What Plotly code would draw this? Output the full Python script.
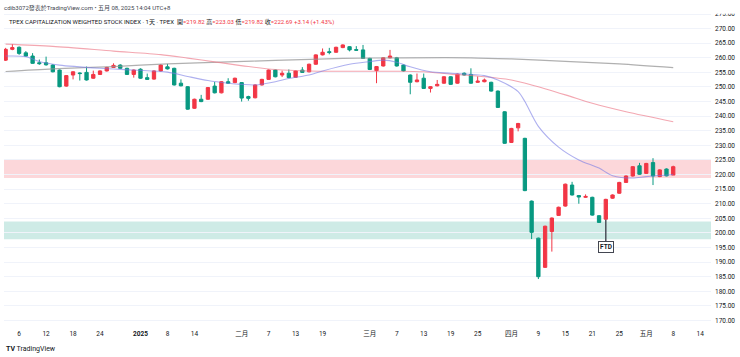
import plotly.graph_objects as go

# ---------------- data ----------------
dates = [
    "2024-12-04", "2024-12-05", "2024-12-06", "2024-12-09", "2024-12-10", "2024-12-11", "2024-12-12",
    "2024-12-13", "2024-12-16", "2024-12-17", "2024-12-18", "2024-12-19", "2024-12-20", "2024-12-23",
    "2024-12-24", "2024-12-25", "2024-12-26", "2024-12-27", "2024-12-30", "2024-12-31",
    "2025-01-02", "2025-01-03", "2025-01-06", "2025-01-07", "2025-01-08", "2025-01-09", "2025-01-10",
    "2025-01-13", "2025-01-14", "2025-01-15", "2025-01-16", "2025-01-17", "2025-01-20", "2025-01-21",
    "2025-01-22",
    "2025-02-03", "2025-02-04", "2025-02-05", "2025-02-06", "2025-02-07", "2025-02-10", "2025-02-11",
    "2025-02-12", "2025-02-13", "2025-02-14", "2025-02-17", "2025-02-18", "2025-02-19", "2025-02-20",
    "2025-02-21", "2025-02-24", "2025-02-25", "2025-02-26", "2025-02-27",
    "2025-03-03", "2025-03-04", "2025-03-05", "2025-03-06", "2025-03-07", "2025-03-10", "2025-03-11",
    "2025-03-12", "2025-03-13", "2025-03-14", "2025-03-17", "2025-03-18", "2025-03-19", "2025-03-20",
    "2025-03-21", "2025-03-24", "2025-03-25", "2025-03-26", "2025-03-27", "2025-03-28", "2025-03-31",
    "2025-04-01", "2025-04-02", "2025-04-07", "2025-04-08", "2025-04-09", "2025-04-10", "2025-04-11",
    "2025-04-14", "2025-04-15", "2025-04-16", "2025-04-17", "2025-04-18", "2025-04-21", "2025-04-22",
    "2025-04-23", "2025-04-24", "2025-04-25", "2025-04-28", "2025-04-29", "2025-04-30",
    "2025-05-02", "2025-05-05", "2025-05-06", "2025-05-07", "2025-05-08",
]
future_dates = ["2025-05-09", "2025-05-12", "2025-05-13", "2025-05-14", "2025-05-15", "2025-05-16"]

opens = [
    259.2, 262.9, 263.6, 261.7, 260.6, 258.3, 258.3, 257.5, 255.8, 250.3,
    254.1, 254.8, 255.0, 253.0, 254.3, 255.5, 256.7, 257.5, 256.4, 254.3,
    256.1, 253.2, 252.7, 255.5, 256.9, 256.4, 251.3, 250.1, 242.7, 245.8,
    245.8, 250.3, 248.0, 251.8, 251.5,
    251.5, 246.7, 246.3, 250.7, 252.6, 255.8, 254.1, 254.7, 253.3, 255.8,
    255.2, 257.8, 261.0, 262.1, 261.9, 263.5, 263.8, 262.8, 262.7,
    259.8, 255.6, 257.2, 260.0, 260.0, 257.5, 254.1, 251.8, 253.0, 249.5,
    250.4, 251.3, 253.5, 251.3, 254.7, 254.3, 251.6, 251.8, 251.6, 248.6, 241.5,
    231.0, 236.0, 232.4, 210.9, 198.2, 188.2, 200.5, 206.0, 209.2, 216.4,
    212.8, 212.2, 212.2, 205.9, 204.7, 211.9, 213.6, 217.3, 219.5, 223.0,
    220.4, 224.1, 219.3, 221.9, 219.82,
]
highs = [
    263.4, 264.7, 263.9, 262.3, 261.6, 259.4, 260.4, 257.8, 256.0, 254.1,
    255.4, 255.0, 257.0, 255.6, 255.7, 256.9, 258.1, 257.8, 256.6, 256.0,
    256.4, 254.6, 255.7, 257.8, 257.9, 256.6, 252.6, 250.3, 246.0, 247.3,
    250.0, 251.7, 252.0, 253.0, 253.2,
    251.7, 247.0, 250.9, 252.8, 256.0, 256.0, 255.6, 256.0, 255.7, 256.8,
    258.0, 261.2, 263.2, 263.4, 263.8, 264.6, 264.0, 264.0, 264.4,
    260.0, 257.2, 260.2, 262.7, 260.3, 257.7, 254.3, 254.6, 254.6, 250.3,
    252.4, 253.7, 253.7, 254.6, 255.0, 256.4, 253.6, 252.9, 251.8, 248.8, 241.7,
    236.0, 237.7, 232.6, 211.1, 198.4, 202.5, 205.3, 209.0, 216.9, 217.5,
    213.0, 213.2, 212.4, 206.1, 211.7, 213.2, 217.5, 219.7, 222.9, 224.0,
    224.0, 225.6, 221.8, 222.1, 223.03,
]
lows = [
    258.9, 262.6, 261.0, 260.4, 258.0, 257.6, 257.3, 255.0, 249.9, 250.1,
    252.6, 252.2, 252.2, 252.8, 254.1, 255.3, 256.5, 256.2, 254.1, 253.2,
    252.8, 252.4, 252.5, 255.3, 256.0, 250.5, 250.2, 242.2, 242.5, 244.8,
    245.6, 247.8, 247.8, 251.1, 251.3,
    245.0, 245.3, 246.1, 250.5, 252.4, 253.3, 253.4, 253.0, 253.1, 254.8,
    255.0, 257.6, 260.8, 261.2, 261.7, 263.3, 262.2, 262.4, 259.6,
    255.8, 251.3, 257.0, 259.8, 257.0, 255.3, 247.5, 251.6, 249.3, 248.1,
    250.2, 251.1, 250.7, 251.1, 253.9, 251.1, 251.4, 251.6, 248.4, 242.8, 230.5,
    230.8, 234.8, 214.3, 197.9, 184.2, 188.0, 193.6, 205.8, 209.0, 212.8,
    210.0, 212.0, 205.9, 203.4, 204.5, 211.7, 213.4, 217.1, 219.3, 219.9,
    220.2, 216.4, 219.1, 219.4, 219.82,
]
closes = [
    262.9, 263.5, 261.5, 260.6, 258.1, 258.0, 257.6, 255.2, 250.1, 253.9,
    255.2, 254.6, 252.4, 254.3, 255.5, 256.7, 257.4, 256.4, 254.3, 255.8,
    253.0, 252.6, 255.5, 257.5, 256.2, 250.7, 250.4, 242.4, 245.8, 245.0,
    249.8, 248.0, 251.8, 251.3, 253.0,
    246.2, 246.1, 250.7, 252.6, 255.8, 253.5, 254.7, 253.2, 255.5, 255.0,
    257.8, 261.0, 261.9, 261.8, 263.6, 264.4, 262.7, 262.6, 259.8,
    256.0, 257.0, 260.0, 260.6, 257.2, 255.5, 251.6, 252.4, 249.5, 250.1,
    250.9, 253.5, 250.9, 254.4, 254.1, 251.3, 252.0, 252.4, 248.6, 243.0, 230.7,
    235.8, 237.5, 214.5, 200.2, 185.0, 202.3, 205.1, 208.8, 216.7, 213.0,
    212.3, 212.5, 206.1, 203.6, 211.5, 213.0, 217.3, 219.5, 222.7, 220.1,
    223.8, 219.5, 221.6, 219.55, 222.69,
]

ma_short_dates = [
    "2024-12-04", "2024-12-09", "2024-12-11", "2024-12-16", "2024-12-24", "2024-12-31", "2025-01-08",
    "2025-01-13", "2025-01-16", "2025-01-21", "2025-02-03", "2025-02-05", "2025-02-10", "2025-02-12",
    "2025-02-17", "2025-02-19", "2025-02-25", "2025-03-03", "2025-03-05", "2025-03-07", "2025-03-11",
    "2025-03-14", "2025-03-19", "2025-03-26", "2025-03-28", "2025-04-02", "2025-04-07", "2025-04-09",
    "2025-04-14", "2025-04-17", "2025-04-22", "2025-04-24", "2025-04-29", "2025-05-02", "2025-05-08",
]
ma_short_vals = [
    260.6, 260.4, 258.7, 257.5, 256.4, 255.8, 255.1,
    253.6, 252.2, 251.3, 250.9, 250.7, 251.8, 252.9,
    254.1, 255.5, 257.8, 258.7, 259.2, 258.5, 256.9,
    255.2, 254.7, 253.9, 252.4, 248.4, 245.0, 236.5,
    229.4, 225.0, 222.2, 219.6, 218.8, 219.3, 220.0,
]
ma_mid_dates = [
    "2024-12-04", "2024-12-13", "2024-12-26", "2025-01-07", "2025-01-13", "2025-01-17", "2025-02-04",
    "2025-02-10", "2025-02-17", "2025-02-26", "2025-03-07", "2025-03-13", "2025-03-19", "2025-03-26",
    "2025-04-01", "2025-04-08", "2025-04-15", "2025-04-21", "2025-04-28", "2025-05-08",
]
ma_mid_vals = [
    264.7, 263.9, 262.3, 261.1, 259.9, 258.6, 257.0,
    256.0, 255.5, 255.4, 255.4, 255.2, 254.4, 253.5,
    252.4, 250.7, 247.3, 244.4, 241.5, 238.1,
]
ma_long_dates = [
    "2024-12-04", "2024-12-13", "2024-12-26", "2025-01-08", "2025-01-21", "2025-02-10", "2025-02-24",
    "2025-03-10", "2025-03-24", "2025-04-01", "2025-04-15", "2025-04-25", "2025-05-08",
]
ma_long_vals = [
    255.3, 256.2, 257.0, 257.9, 258.6, 259.1, 259.8,
    260.0, 260.0, 259.6, 258.8, 257.9, 256.6,
]

tick_dates = [
    "2024-12-06", "2024-12-12", "2024-12-18", "2024-12-24", "2025-01-02", "2025-01-08", "2025-01-14",
    "2025-02-03", "2025-02-07", "2025-02-13", "2025-02-19", "2025-03-03", "2025-03-07", "2025-03-13",
    "2025-03-19", "2025-03-25", "2025-04-01", "2025-04-09", "2025-04-15", "2025-04-21", "2025-04-25",
    "2025-05-02", "2025-05-08", "2025-05-14",
]
tick_labels = [
    "6", "12", "18", "24", "<b>2025</b>", "8", "14",
    "二月", "7", "13", "19", "三月", "7", "13",
    "19", "25", "四月", "9", "15", "21", "25",
    "五月", "8", "14",
]
price_ticks = [170, 175, 180, 185, 190, 195, 200, 205, 210, 215, 220, 225,
               230, 235, 240, 245, 250, 255, 260, 265, 270, 275]

resistance_zone = [218.8, 225.3]
support_zone = [197.8, 203.9]
ftd_date = "2025-04-23"

# ---------------- figure ----------------
all_dates = dates + future_dates
pos = {d: i for i, d in enumerate(all_dates)}

UP = "#f23645"
DOWN = "#089981"
FONT = "Roboto, 'Noto Sans CJK TC', sans-serif"

fig = go.Figure()

fig.add_trace(go.Scatter(
    x=[pos[d] for d in ma_long_dates], y=ma_long_vals, mode="lines",
    line=dict(color="rgba(150,150,150,0.75)", width=1.2, shape="spline", smoothing=0.8),
    hoverinfo="skip", showlegend=False))
fig.add_trace(go.Scatter(
    x=[pos[d] for d in ma_mid_dates], y=ma_mid_vals, mode="lines",
    line=dict(color="rgba(236,120,135,0.65)", width=1.1, shape="spline", smoothing=0.8),
    hoverinfo="skip", showlegend=False))
fig.add_trace(go.Scatter(
    x=[pos[d] for d in ma_short_dates], y=ma_short_vals, mode="lines",
    line=dict(color="rgba(120,124,228,0.6)", width=1.1, shape="spline", smoothing=0.8),
    hoverinfo="skip", showlegend=False))

fig.add_trace(go.Candlestick(
    x=[pos[d] for d in dates], open=opens, high=highs, low=lows, close=closes,
    increasing=dict(line=dict(color=UP, width=1), fillcolor=UP),
    decreasing=dict(line=dict(color=DOWN, width=1), fillcolor=DOWN),
    whiskerwidth=0, showlegend=False))

for zone, col in ((resistance_zone, "rgba(242,54,69,0.2)"), (support_zone, "rgba(8,153,129,0.2)")):
    fig.add_shape(type="rect", xref="paper", x0=0, x1=1, yref="y", y0=zone[0], y1=zone[1],
                  fillcolor=col, line=dict(width=0), layer="below")

# white strip at the very top (cuts the top price label like the original)
fig.add_shape(type="rect", xref="paper", x0=-0.01, x1=1.06, yref="paper", y0=0.9945, y1=1.05,
              fillcolor="white", line=dict(width=0), layer="above")

fi = dates.index(ftd_date)
fig.add_annotation(x=pos[ftd_date], y=lows[fi], text="<b>FTD</b>", showarrow=True, arrowhead=0,
                   arrowwidth=1.4, arrowcolor="#434651", ax=0, ay=27,
                   bordercolor="#434651", borderwidth=1, borderpad=1, bgcolor="white",
                   font=dict(family=FONT, size=6.5, color="#131722"))

last = len(closes) - 1
chg = closes[last] - closes[last - 1]
pct = chg / closes[last - 1] * 100
red = "color:#f23645"
header2 = (
    "TPEX CAPITALIZATION WEIGHTED STOCK INDEX · 1天 · TPEX  "
    f"開<span style='{red}'>={opens[last]:.2f}</span> "
    f"高<span style='{red}'>={highs[last]:.2f}</span> "
    f"低<span style='{red}'>={lows[last]:.2f}</span> "
    f"收<span style='{red}'>={closes[last]:.2f}</span> "
    f"<span style='{red}'>{chg:+.2f} ({pct:+.2f}%)</span>"
)
fig.add_annotation(xref="paper", yref="paper", x=-0.003, y=1.012, xanchor="left", yanchor="middle",
                   text="cdib3072發表於TradingView.com • 五月 08, 2025 14:04 UTC+8", showarrow=False,
                   font=dict(family=FONT, size=6, color="#434651"))
fig.add_annotation(xref="paper", yref="paper", x=0.004, y=0.968, xanchor="left", yanchor="middle",
                   text=header2, showarrow=False,
                   font=dict(family=FONT, size=6, color="#131722"))
fig.add_annotation(xref="paper", yref="paper", x=0.0, y=-0.072, xanchor="left", yanchor="middle",
                   text="<b>TV</b> TradingView", showarrow=False,
                   font=dict(family=FONT, size=7, color="#131722"))

fig.update_layout(
    width=740, height=357,
    margin=dict(l=4, r=29, t=12, b=31),
    paper_bgcolor="white", plot_bgcolor="white",
    font=dict(family=FONT, size=6.5, color="#131722"),
    showlegend=False,
    xaxis=dict(
        range=[-0.24, 104.6], tickmode="array",
        tickvals=[pos[d] for d in tick_dates], ticktext=tick_labels,
        showgrid=False, zeroline=False, showline=False, ticks="",
        tickfont=dict(size=6.5, color="#131722"), ticklabelstandoff=2,
        rangeslider=dict(visible=False), fixedrange=True,
    ),
    yaxis=dict(
        side="right", range=[168.11, 275.69], tickmode="array",
        tickvals=price_ticks, ticktext=[f"{v:.2f}" for v in price_ticks],
        showgrid=True, gridcolor="#f0f3fa", gridwidth=1, zeroline=False, showline=False,
        ticks="", tickfont=dict(size=6.5, color="#131722"), ticklabelstandoff=3,
        fixedrange=True,
    ),
)

fig.write_html("out.html", config={"displayModeBar": False},
               post_script="document.body.style.margin='0';")
